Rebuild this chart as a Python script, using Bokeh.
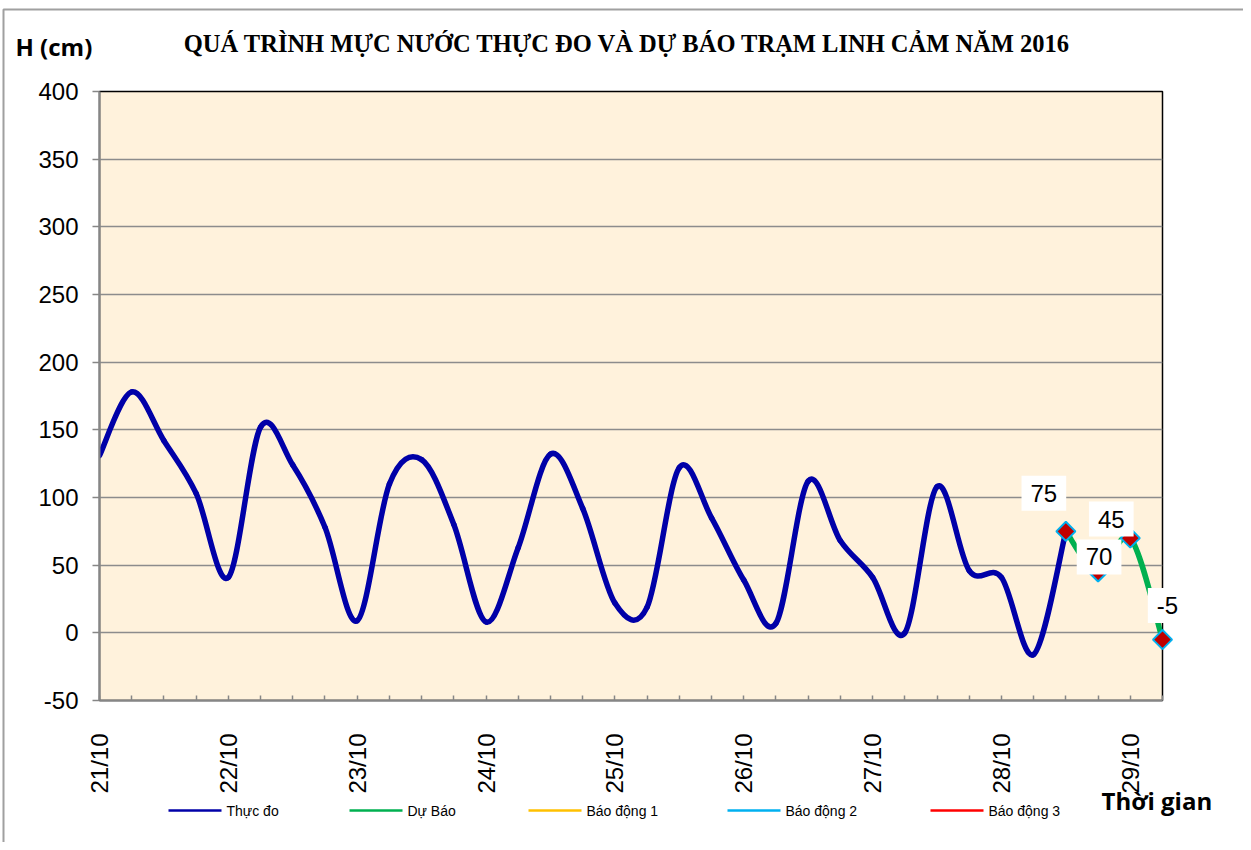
import math
import numpy as np
from bokeh.plotting import figure
from bokeh.models import ColumnDataSource, Range1d, FixedTicker, CDSView, IndexFilter
from bokeh.core.properties import value
from bokeh.embed import file_html
from bokeh.resources import INLINE

# ---------------- data ----------------
day_labels = ["21/10", "22/10", "23/10", "24/10", "25/10", "26/10", "27/10", "28/10", "29/10"]
steps_per_day = 4  # 6-hourly observations
observed = [131, 178, 142, 103, 41, 152, 124, 78, 9, 110, 128, 80, 8, 63, 132, 92,
            22, 19, 122, 85, 39, 7, 112, 68, 41, 0, 108, 46, 41, -16, 75]
forecast = [75, 45, 70, -5]
forecast_labels = ["75", "70", "45", "-5"]
alarm1 = []
alarm2 = []
alarm3 = []
y_ticks = [-50, 0, 50, 100, 150, 200, 250, 300, 350, 400]
series_names = ["Thực đo", "Dự Báo", "Báo động 1", "Báo động 2", "Báo động 3"]
title_text = "QUÁ TRÌNH  MỰC NƯỚC THỰC ĐO VÀ DỰ BÁO TRẠM  LINH  CẢM NĂM 2016"
y_title = "H (cm)"
x_title = "Thời gian"

# ---------------- styles ----------------
FRAME_W, FRAME_H = 1063, 609
BL, BT, BR, BB = 99, 91, 81, 142
PEACH = "#FFF2DC"
GRID = "#8C8C8C"
AXIS = "#868686"
BLUE = "#0000A8"
GREEN = "#00B050"
series_colors = [BLUE, GREEN, "#FFC000", "#00B0F0", "#FF0000"]
legend_px = [168, 349, 528, 727, 930]   # legend item left edges (pixels)
LEGEND_Y, LEGEND_GLYPH, LEGEND_GAP = 810, 53, 58
label_dx = [-22, 1, -19, 5]
label_dy = [-38, -15, -19, -34]

obs_x = list(range(len(observed)))
fc_x = list(range(len(observed) - 1, len(observed) - 1 + len(forecast)))
n_cat = len(observed) - 1 + len(forecast)
X0, X1 = 0, n_cat - 1
Y0, Y1 = y_ticks[0], y_ticks[-1]


def px_x(px):  # canvas pixel -> data x (for free text / legend placement)
    return X0 + (px - BL) / FRAME_W * (X1 - X0)


def px_y(py):  # canvas pixel -> data y
    return Y1 - (py - BT) / FRAME_H * (Y1 - Y0)


def smooth_source(xs, ys):
    """Bezier control points like a spreadsheet 'smoothed line'."""
    xs = np.asarray(xs, float)
    ys = np.asarray(ys, float)
    px = np.concatenate([[xs[0]], xs, [xs[-1]]])
    py = np.concatenate([[ys[0]], ys, [ys[-1]]])
    i = np.arange(len(xs) - 1)
    return ColumnDataSource(dict(
        x0=px[i + 1], y0=py[i + 1], x1=px[i + 2], y1=py[i + 2],
        cx0=px[i + 1] + (px[i + 2] - px[i]) / 6, cy0=py[i + 1] + (py[i + 2] - py[i]) / 6,
        cx1=px[i + 2] - (px[i + 3] - px[i + 1]) / 6, cy1=py[i + 2] - (py[i + 3] - py[i + 1]) / 6,
    ))


p = figure(frame_width=FRAME_W, frame_height=FRAME_H,
           min_border_left=BL, min_border_top=BT, min_border_right=BR, min_border_bottom=BB,
           x_range=Range1d(X0, X1), y_range=Range1d(Y0, Y1),
           output_backend="svg", toolbar_location=None,
           background_fill_color=PEACH, border_fill_color="white")

p.outline_line_color = "black"
p.outline_line_width = 1.5

# axes
p.xgrid.grid_line_color = None
p.ygrid.grid_line_color = GRID
p.ygrid.grid_line_width = 1.5
p.yaxis.ticker = FixedTicker(ticks=y_ticks)
p.yaxis.major_label_overrides = {t: str(t) for t in y_ticks}
p.xaxis.ticker = FixedTicker(ticks=list(range(n_cat)))
p.xaxis.major_label_overrides = {
    k: (day_labels[k // steps_per_day] if k % steps_per_day == 0 else "") for k in range(n_cat)
}
for ax in (p.xaxis[0], p.yaxis[0]):
    ax.axis_line_color = AXIS
    ax.axis_line_width = 2
    ax.major_tick_line_color = AXIS
    ax.major_tick_line_width = 1.5
    ax.minor_tick_line_color = None
    ax.major_label_text_font = "Liberation Sans"
    ax.major_label_text_font_size = "24px"
    ax.major_label_text_color = "black"
p.yaxis.major_tick_in = 0
p.yaxis.major_tick_out = 7
p.yaxis.major_label_standoff = 14
p.xaxis.major_tick_in = 5
p.xaxis.major_tick_out = 0
p.xaxis.major_label_orientation = math.pi / 2
p.xaxis.major_label_standoff = 33

# outer chart border (decoration)
p.quad(left=[px_x(3)], right=[px_x(1245)], top=[px_y(9)], bottom=[px_y(900)],
       fill_alpha=0, line_color="#A0A0A0", line_width=2, level="overlay")

# series
p.bezier(x0="x0", y0="y0", x1="x1", y1="y1", cx0="cx0", cy0="cy0", cx1="cx1", cy1="cy1",
         source=smooth_source(obs_x, observed), line_color=BLUE, line_width=5.5, line_cap="round")
p.bezier(x0="x0", y0="y0", x1="x1", y1="y1", cx0="cx0", cy0="cy0", cx1="cx1", cy1="cy1",
         source=smooth_source(fc_x, forecast), line_color=GREEN, line_width=5.5, line_cap="round")
for al, col in zip([alarm1, alarm2, alarm3], series_colors[2:]):
    p.line(x=list(range(len(al))), y=al, line_color=col, line_width=2.5)

fc_src = ColumnDataSource(dict(x=fc_x, y=forecast, lab=forecast_labels, dx=label_dx, dy=label_dy))
mk = dict(marker="square", angle=np.pi / 4, size=13.5, fill_color="#C00000",
          line_color="#00B0F0", line_width=2)
p.scatter("x", "y", source=fc_src, view=CDSView(filter=IndexFilter(list(range(len(forecast) - 1)))), **mk)
p.scatter("x", "y", source=fc_src, view=CDSView(filter=IndexFilter([len(forecast) - 1])),
          level="overlay", **mk)

p.text(x="x", y="y", text="lab", x_offset="dx", y_offset="dy", source=fc_src,
       text_align="center", text_baseline="middle",
       text_font=value("Liberation Sans"), text_font_size="24px", text_color="black",
       background_fill_color="white", padding=9, level="overlay")

# free texts (title, axis titles)
p.text(x=[px_x(636)], y=[px_y(43)], text=[title_text], text_align="center", text_baseline="middle",
       text_font=value("Liberation Serif"), text_font_style="bold", text_font_size="24.5px",
       text_color="black", level="overlay")
p.text(x=[px_x(15)], y=[px_y(46)], text=[y_title], text_align="left", text_baseline="middle",
       text_font=value("Open Sans"), text_font_style="bold", text_font_size="24px",
       text_color="black", level="overlay")
p.text(x=[px_x(1101)], y=[px_y(800)], text=[x_title], text_align="left", text_baseline="middle",
       text_font=value("Open Sans"), text_font_style="bold", text_font_size="24px",
       text_color="black", level="overlay")

# legend row below the axis (drawn unclipped at overlay level)
leg_src = ColumnDataSource(dict(
    x0=[px_x(v) for v in legend_px],
    x1=[px_x(v + LEGEND_GLYPH) for v in legend_px],
    xm=[px_x(v + LEGEND_GLYPH / 2) for v in legend_px],
    xt=[px_x(v + LEGEND_GAP) for v in legend_px],
    y=[px_y(LEGEND_Y)] * len(series_names),
    name=series_names, color=series_colors,
))
p.segment(x0="x0", y0="y", x1="x1", y1="y", source=leg_src, line_color="color",
          line_width=2.5, level="overlay")
p.scatter(x="xm", y="y", source=leg_src, view=CDSView(filter=IndexFilter([1])),
          marker="square", angle=np.pi / 4, size=5, fill_color="#00B0F0",
          line_color="#00B0F0", level="overlay")
p.text(x="xt", y="y", text="name", source=leg_src, text_align="left", text_baseline="middle",
       text_font=value("Liberation Sans"), text_font_size="14px", text_color="black",
       level="overlay")

open("out.html", "w").write(file_html(p, INLINE))
